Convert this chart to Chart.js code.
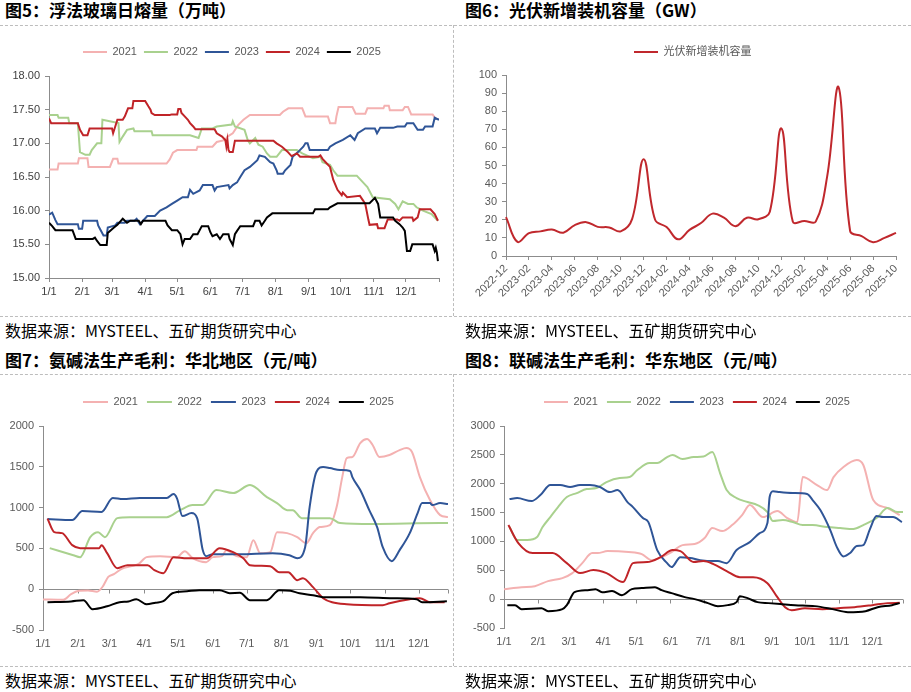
<!DOCTYPE html>
<html>
<head>
<meta charset="utf-8">
<script src="https://cdn.jsdelivr.net/npm/chart.js@4.4.1/dist/chart.umd.min.js"></script>
<style>
  body { margin: 0; background: #fff; width: 911px; height: 692px; position: relative; overflow: hidden;
         font-family: "Noto Sans CJK SC", sans-serif; }
  .title { position: absolute; font-size: 17px; font-weight: bold; line-height: 20px; color: #000; white-space: nowrap; }
  .src { position: absolute; font-size: 16px; line-height: 20px; color: #000; white-space: nowrap; }
  .hl { position: absolute; left: 0; width: 911px; height: 0; border-top: 1px dashed #bdbdbd; }
  .vl { position: absolute; left: 453px; width: 0; border-left: 1px dashed #bdbdbd; }
  canvas { position: absolute; }
</style>
</head>
<body>
<div class="title" style="left:5px;top:0px">图5：浮法玻璃日熔量（万吨）</div>
<div class="title" style="left:465px;top:0px">图6：光伏新增装机容量（GW）</div>
<div class="title" style="left:5px;top:350px">图7：氨碱法生产毛利：华北地区（元/吨）</div>
<div class="title" style="left:465px;top:350px">图8：联碱法生产毛利：华东地区（元/吨）</div>

<div class="hl" style="top:25px"></div>
<div class="hl" style="top:316px"></div>
<div class="hl" style="top:374px"></div>
<div class="hl" style="top:666px"></div>
<div class="vl" style="top:25px;height:291px"></div>
<div class="vl" style="top:374px;height:292px"></div>

<canvas id="glassChart" width="460" height="289" style="left:0;top:26px"></canvas>
<canvas id="pvChart" width="465" height="289" style="left:456px;top:26px"></canvas>
<canvas id="northChart" width="476" height="290" style="left:0;top:375px"></canvas>
<canvas id="eastChart" width="480" height="290" style="left:456px;top:375px"></canvas>

<div class="src" style="left:5px;top:320px">数据来源：MYSTEEL、五矿期货研究中心</div>
<div class="src" style="left:465px;top:320px">数据来源：MYSTEEL、五矿期货研究中心</div>
<div class="src" style="left:5px;top:670px">数据来源：MYSTEEL、五矿期货研究中心</div>
<div class="src" style="left:465px;top:670px">数据来源：MYSTEEL、五矿期货研究中心</div>

<script>
// x axis of the seasonal charts: day of year
const monthStarts = [0, 31, 59, 90, 120, 151, 181, 212, 243, 273, 304, 334];
const monthLabels = ["1/1", "2/1", "3/1", "4/1", "5/1", "6/1", "7/1", "8/1", "9/1", "10/1", "11/1", "12/1"];
const yearLabels = ["2021", "2022", "2023", "2024", "2025"];

// 图5 浮法玻璃日熔量 [day, 万吨]
const glass2021 = [[0,16.61],[8,16.61],[9,16.70],[27,16.70],[28,16.78],[36,16.78],[37,16.65],[57,16.65],[60,16.77],[64,16.77],[65,16.70],[110,16.70],[113,16.76],[116,16.86],[120,16.9],[138,16.9],[139,16.95],[153,16.95],[157,17.02],[165,17.05],[167,17.1],[172,17.15],[177,17.27],[182,17.35],[188,17.42],[216,17.42],[219,17.47],[224,17.52],[237,17.52],[240,17.4],[261,17.4],[263,17.3],[268,17.3],[269,17.4],[271,17.54],[284,17.54],[287,17.44],[296,17.44],[298,17.52],[313,17.52],[314,17.56],[318,17.56],[319,17.49],[331,17.49],[333,17.54],[336,17.54],[339,17.43],[359,17.43],[362,17.36],[365,17.36]];
const glass2022 = [[0,17.42],[8,17.42],[9,17.38],[18,17.38],[19,17.3],[27,17.3],[29,16.87],[34,16.83],[38,16.83],[40,16.9],[45,17.0],[49,17.0],[50,17.35],[65,17.3],[66,17.02],[69,17.1],[73,17.2],[79,17.22],[80,17.18],[96,17.18],[97,17.12],[132,17.12],[140,17.08],[143,17.22],[153,17.22],[157,17.25],[171,17.28],[172,17.33],[174,17.25],[183,17.2],[186,17.05],[188,17.0],[193,17.08],[196,16.98],[200,16.95],[204,16.85],[207,16.8],[213,16.8],[218,16.9],[232,16.9],[237,16.85],[247,16.78],[254,16.8],[256,16.72],[263,16.68],[266,16.6],[270,16.52],[288,16.52],[298,16.35],[303,16.2],[319,16.17],[324,16.1],[327,16.02],[331,16.14],[336,16.1],[341,16.1],[344,16.05],[350,16.0],[358,15.95],[364,15.85]];
const glass2023 = [[0,15.94],[3,15.97],[6,15.86],[8,15.8],[27,15.8],[28,15.73],[31,15.73],[32,15.85],[45,15.85],[46,15.78],[48,15.72],[51,15.63],[54,15.63],[55,15.75],[62,15.78],[64,15.82],[71,15.82],[73,15.85],[80,15.85],[82,15.88],[85,15.8],[88,15.85],[92,15.92],[99,15.92],[104,16.0],[110,16.05],[115,16.1],[120,16.15],[125,16.2],[130,16.2],[132,16.31],[135,16.25],[141,16.3],[144,16.38],[153,16.38],[155,16.3],[157,16.35],[168,16.38],[169,16.33],[172,16.38],[176,16.42],[179,16.5],[183,16.6],[188,16.65],[195,16.75],[197,16.82],[202,16.8],[207,16.72],[210,16.7],[213,16.6],[214,16.55],[219,16.55],[221,16.6],[226,16.68],[228,16.8],[233,16.87],[238,16.95],[240,17.0],[242,17.0],[244,16.9],[261,16.9],[263,16.95],[268,17.0],[275,17.05],[282,17.12],[286,17.05],[289,17.15],[296,17.22],[305,17.22],[307,17.15],[310,17.23],[322,17.23],[326,17.25],[333,17.25],[335,17.3],[341,17.3],[343,17.25],[345,17.2],[350,17.2],[352,17.25],[359,17.25],[361,17.38],[365,17.35]];
const glass2024 = [[0,17.37],[2,17.3],[27,17.3],[29,17.2],[32,17.12],[36,17.12],[38,17.22],[59,17.22],[60,17.15],[62,17.25],[64,17.35],[69,17.35],[71,17.4],[74,17.52],[78,17.52],[79,17.63],[90,17.63],[93,17.55],[95,17.5],[96,17.45],[99,17.42],[113,17.42],[115,17.43],[120,17.43],[121,17.51],[123,17.51],[124,17.45],[127,17.4],[130,17.35],[132,17.3],[135,17.25],[137,17.21],[155,17.21],[157,17.15],[162,17.1],[165,17.05],[166,16.95],[167,17.05],[168,16.9],[169,16.87],[172,16.87],[174,17.04],[210,17.04],[213,17.0],[218,16.95],[223,16.88],[227,16.81],[232,16.85],[235,16.8],[252,16.8],[254,16.82],[256,16.77],[260,16.7],[263,16.65],[266,16.46],[270,16.31],[274,16.23],[275,16.27],[279,16.2],[291,16.22],[294,16.15],[296,16.1],[299,15.86],[300,15.79],[307,15.8],[308,15.74],[314,15.74],[317,15.87],[326,15.87],[328,15.85],[331,15.9],[340,15.9],[341,15.85],[345,15.9],[347,16.02],[357,16.02],[361,15.95],[364,15.85]];
const glass2025 = [[0,15.82],[3,15.77],[6,15.71],[22,15.71],[25,15.58],[41,15.58],[43,15.6],[45,15.55],[48,15.49],[54,15.49],[55,15.67],[60,15.74],[64,15.79],[69,15.88],[73,15.82],[76,15.85],[84,15.85],[86,15.8],[88,15.85],[109,15.85],[111,15.78],[115,15.71],[120,15.71],[123,15.65],[125,15.5],[127,15.58],[132,15.58],[135,15.65],[139,15.65],[143,15.77],[149,15.77],[151,15.68],[153,15.62],[157,15.65],[160,15.58],[163,15.65],[168,15.65],[169,15.58],[172,15.49],[174,15.65],[176,15.7],[179,15.77],[191,15.77],[193,15.85],[197,15.85],[199,15.78],[202,15.85],[204,15.9],[209,15.96],[247,15.96],[249,16.02],[261,16.02],[263,16.05],[270,16.11],[300,16.11],[305,16.19],[308,16.1],[310,15.9],[322,15.9],[324,15.85],[328,15.8],[331,15.75],[333,15.7],[334,15.55],[335,15.4],[338,15.4],[340,15.5],[359,15.5],[361,15.4],[362,15.45],[363,15.38],[364,15.25]];

// 图6 光伏新增装机容量 (GW), monthly
const pvMonths = ["2022-12","2023-01","2023-02","2023-03","2023-04","2023-05","2023-06","2023-07","2023-08","2023-09","2023-10","2023-11","2023-12","2024-01","2024-02","2024-03","2024-04","2024-05","2024-06","2024-07","2024-08","2024-09","2024-10","2024-11","2024-12","2025-01","2025-02","2025-03","2025-04","2025-05","2025-06","2025-07","2025-08","2025-09","2025-10"];
const pvValues = [21.5, 7.8, 12.6, 13.6, 14.6, 12.9, 17.1, 18.7, 16.1, 15.8, 13.6, 20.5, 53.5, 20.0, 16.0, 9.2, 14.4, 18.2, 23.4, 21.2, 16.5, 21.1, 20.3, 24.5, 70.5, 19.0, 19.4, 19.0, 44.0, 93.2, 13.8, 11.0, 7.6, 10.0, 12.8];

// 图7 氨碱法生产毛利 华北 [day, 元/吨]
const north2021 = [[0,-125],[18,-130],[25,-60],[32,-20],[40,-15],[48,-30],[53,30],[58,150],[63,185],[70,250],[78,280],[85,310],[92,393],[104,405],[119,393],[126,466],[133,380],[145,331],[151,393],[159,405],[163,478],[172,405],[181,393],[187,601],[193,442],[202,454],[208,699],[217,687],[226,638],[234,564],[240,687],[246,761],[255,785],[261,1006],[266,1374],[270,1607],[275,1620],[282,1791],[288,1840],[293,1767],[299,1620],[308,1644],[317,1705],[323,1730],[328,1681],[335,1374],[344,1092],[353,908],[360,883]];
const north2022 = [[6,503],[27,417],[33,393],[42,638],[49,699],[55,638],[66,871],[77,883],[110,883],[122,969],[133,1031],[142,1031],[154,1215],[169,1178],[184,1276],[199,1129],[208,1055],[217,969],[222,969],[230,871],[255,871],[264,810],[293,798],[353,810],[360,810]];
const north2023 = [[4,859],[26,847],[35,957],[52,945],[62,1117],[71,1104],[86,1117],[110,1117],[116,1166],[119,1117],[124,896],[132,933],[137,871],[142,479],[145,405],[151,429],[175,429],[204,442],[219,417],[226,380],[233,515],[237,1006],[243,1436],[249,1497],[255,1485],[264,1460],[273,1448],[275,1374],[282,1215],[290,969],[297,761],[302,515],[310,344],[317,479],[326,687],[333,933],[337,1055],[344,1055],[346,1031],[353,1055],[360,1043]];
const north2024 = [[4,865],[10,700],[17,687],[26,540],[33,503],[50,503],[52,540],[57,442],[66,258],[75,294],[93,294],[99,233],[107,196],[116,393],[128,380],[146,380],[157,503],[169,454],[178,380],[184,294],[202,282],[210,209],[218,209],[226,110],[231,135],[240,25],[249,-110],[257,-160],[270,-184],[302,-196],[308,-172],[326,-123],[335,-110],[344,-160],[357,-160]];
const north2025 = [[4,-160],[25,-150],[36,-135],[44,-245],[57,-209],[68,-160],[76,-150],[83,-123],[92,-184],[100,-165],[107,-147],[115,-49],[128,-25],[139,-12],[157,-12],[166,-49],[175,-45],[184,-135],[199,-135],[210,-12],[220,-20],[228,-49],[240,-74],[249,-98],[282,-98],[311,-110],[332,-123],[337,-160],[359,-147]];

// 图8 联碱法生产毛利 华东 [day, 元/吨]
const east2021 = [[0,173],[16,208],[28,225],[40,312],[53,364],[62,451],[71,624],[80,798],[85,798],[94,832],[113,815],[125,780],[134,676],[143,728],[152,815],[162,936],[173,954],[182,1058],[189,1231],[198,1179],[207,1283],[216,1457],[223,1630],[235,1422],[248,1526],[257,1405],[266,1335],[271,2115],[284,1977],[293,1890],[299,2115],[308,2289],[320,2410],[326,2324],[335,1717],[348,1578],[359,1457]];
const east2022 = [[5,1249],[12,1023],[21,1023],[30,1075],[35,1249],[42,1422],[49,1595],[57,1769],[66,1838],[75,1907],[84,1925],[93,2029],[105,2098],[114,2115],[121,2237],[132,2358],[139,2358],[148,2462],[153,2497],[162,2428],[172,2462],[181,2470],[189,2549],[196,2185],[202,1890],[211,1751],[221,1682],[230,1630],[239,1509],[244,1353],[253,1370],[262,1335],[271,1283],[280,1283],[293,1249],[305,1231],[317,1214],[326,1283],[338,1405],[348,1578],[357,1509],[362,1509]];
const east2023 = [[5,1734],[12,1751],[25,1699],[33,1803],[42,1977],[51,1977],[60,1942],[69,1977],[78,1977],[87,1942],[96,1855],[103,1890],[112,1682],[117,1595],[126,1405],[131,1335],[139,850],[148,624],[152,555],[160,728],[169,711],[178,676],[190,659],[194,659],[202,624],[211,850],[223,988],[232,1144],[239,1318],[241,1769],[244,1870],[250,1855],[262,1838],[275,1821],[280,1717],[287,1543],[296,1196],[302,902],[308,740],[314,798],[320,919],[326,936],[332,1214],[338,1439],[344,1422],[353,1422],[361,1335]];
const east2024 = [[4,1283],[13,971],[26,798],[44,798],[57,624],[69,451],[81,503],[93,451],[108,295],[117,624],[130,642],[142,728],[153,850],[160,832],[172,642],[181,659],[190,607],[202,486],[214,381],[226,381],[239,277],[248,35],[255,-139],[261,-191],[273,-156],[289,-173],[303,-156],[318,-139],[334,-104],[348,-69],[359,-64]];
const east2025 = [[3,-104],[10,-104],[16,-173],[34,-156],[40,-208],[53,-173],[57,-104],[64,121],[76,156],[83,173],[89,121],[98,139],[107,69],[116,173],[125,191],[137,208],[143,156],[152,104],[164,35],[173,0],[185,-69],[194,-121],[203,-104],[211,-52],[214,52],[221,17],[230,-52],[240,-69],[252,-87],[264,-104],[282,-121],[298,-173],[312,-225],[328,-208],[339,-139],[352,-104],[359,-69]];

const axisGray = "#8c8c8c";
const yearColors = ["rgb(244,177,177)", "rgb(169,209,142)", "rgb(47,85,151)", "rgb(192,36,40)", "#000000"];

Chart.defaults.font.family = '"Liberation Sans", "Noto Sans CJK SC", sans-serif';
Chart.defaults.font.size = 11;
Chart.defaults.animation = false;
Chart.defaults.responsive = false;
Chart.defaults.devicePixelRatio = 1;
Chart.defaults.plugins.tooltip.enabled = false;

function yearDatasets(series, smooth) {
  return series.map((pairs, i) => ({
    label: yearLabels[i],
    data: pairs.map(([x, y]) => ({ x: x, y: y })),
    borderColor: yearColors[i],
    backgroundColor: yearColors[i],
    borderWidth: 2,
    pointRadius: 0,
    tension: smooth ? 0.4 : 0,
    cubicInterpolationMode: smooth ? "monotone" : "default",
    order: series.length - i,
  }));
}

function legendOpts(boxWidth, padding) {
  return {
    position: "top",
    labels: {
      boxWidth: boxWidth,
      boxHeight: 0,
      padding: padding,
      color: "#595959",
      sort: (a, b) => a.datasetIndex - b.datasetIndex,
    },
  };
}

// empty title used as a gap between legend and plot
function spacer(h) {
  return { display: true, text: "", weight: 500, padding: 0, font: { size: h, lineHeight: 1 } };
}

// empty right axis, only to balance the legend against the plot
function padAxis(w) {
  return {
    type: "linear", position: "right",
    grid: { display: false, drawTicks: false },
    ticks: { display: false },
    border: { display: false },
    afterFit: (s) => { s.width = w; },
  };
}

function dayAxis(max, color, showBorder) {
  return {
    type: "linear",
    min: 0,
    max: max,
    afterBuildTicks: (s) => { s.ticks = monthStarts.concat([max]).map((v) => ({ value: v })); },
    ticks: { autoSkip: false, maxRotation: 0, color: color, padding: 3,
      callback: (v, i) => (i < monthLabels.length ? monthLabels[i] : "") },
    grid: { drawOnChartArea: false, tickLength: 4, color: showBorder ? axisGray : "transparent", tickColor: showBorder ? axisGray : "transparent" },
    border: { display: showBorder, color: axisGray },
    afterFit: (s) => { s.height = 20; },
  };
}

// tick marks on the zero line for the profit charts
const zeroLineTicks = {
  id: "zeroLineTicks",
  beforeDatasetsDraw(chart) {
    const { ctx, scales: { x, y } } = chart;
    const y0 = Math.round(y.getPixelForValue(0)) + 0.5;
    ctx.save();
    ctx.strokeStyle = axisGray;
    ctx.lineWidth = 1;
    ctx.beginPath();
    x.ticks.forEach((t) => {
      const px = Math.round(x.getPixelForValue(t.value)) + 0.5;
      ctx.moveTo(px, y0);
      ctx.lineTo(px, y0 + 4);
    });
    ctx.stroke();
    ctx.restore();
  },
};

// 图5
new Chart(document.getElementById("glassChart"), {
  type: "line",
  data: { datasets: yearDatasets([glass2021, glass2022, glass2023, glass2024, glass2025], false) },
  options: {
    layout: { padding: { top: 13.5, left: 5, right: 1.2, bottom: 17 } },
    plugins: { legend: legendOpts(24, 7), title: spacer(8.5) },
    scales: {
      x: dayAxis(365, "#404040", true),
      y: {
        min: 15, max: 18,
        ticks: { stepSize: 0.5, color: "#404040", padding: 5, callback: (v) => v.toFixed(2) },
        grid: { drawOnChartArea: false, tickLength: 4, tickColor: axisGray },
        border: { color: axisGray },
        afterFit: (s) => { s.width = 44; },
      },
      yPad: padAxis(19.8),
    },
  },
});

// 图6
new Chart(document.getElementById("pvChart"), {
  type: "line",
  data: {
    labels: pvMonths,
    datasets: [{
      label: "光伏新增装机容量",
      data: pvValues,
      borderColor: "rgb(192,40,45)",
      backgroundColor: "rgb(192,40,45)",
      borderWidth: 2,
      pointRadius: 0,
      tension: 0.4,
    }],
  },
  options: {
    layout: { padding: { top: 10.5, left: 10, right: 1.5, bottom: 9 } },
    plugins: { legend: legendOpts(24, 10), title: spacer(7.5) },
    scales: {
      x: {
        ticks: { autoSkip: false, minRotation: 45, maxRotation: 45, color: "#595959", padding: 2,
          callback: function (v, i) { return i % 2 === 0 ? this.getLabelForValue(v) : null; } },
        grid: { drawOnChartArea: false, tickLength: 4, tickColor: axisGray },
        border: { color: axisGray },
        afterFit: (s) => { s.height = 50; },
      },
      y: {
        min: 0, max: 100,
        ticks: { stepSize: 10, color: "#595959", padding: 5 },
        grid: { drawOnChartArea: false, tickLength: 4, tickColor: axisGray },
        border: { color: axisGray },
        afterFit: (s) => { s.width = 40; },
      },
      yPad: padAxis(23.5),
    },
  },
});

function profitY(max, width) {
  return {
    min: -500, max: max,
    ticks: { stepSize: 500, color: "#595959", padding: 5, callback: (v) => String(v) },
    grid: { color: (c) => (c.tick.value === 0 ? axisGray : "transparent"), tickLength: 4, tickColor: axisGray },
    border: { color: axisGray },
    afterFit: (s) => { s.width = width; },
  };
}

// 图7
new Chart(document.getElementById("northChart"), {
  type: "line",
  data: { datasets: yearDatasets([north2021, north2022, north2023, north2024, north2025], true) },
  options: {
    layout: { padding: { top: 12.5, left: 3, right: 2.2, bottom: 15 } },
    plugins: { legend: legendOpts(25, 9), title: spacer(8.5) },
    scales: { x: dayAxis(360, "#595959", false), y: profitY(2000, 40), yPad: padAxis(25.8) },
  },
  plugins: [zeroLineTicks],
});

// 图8
new Chart(document.getElementById("eastChart"), {
  type: "line",
  data: { datasets: yearDatasets([east2021, east2022, east2023, east2024, east2025], true) },
  options: {
    layout: { padding: { top: 12.5, left: 4, right: 2.2, bottom: 17 } },
    plugins: { legend: legendOpts(24, 9), title: spacer(8.5) },
    scales: { x: dayAxis(362, "#595959", false), y: profitY(3000, 44), yPad: padAxis(30.8) },
  },
  plugins: [zeroLineTicks],
});
</script>
</body>
</html>
